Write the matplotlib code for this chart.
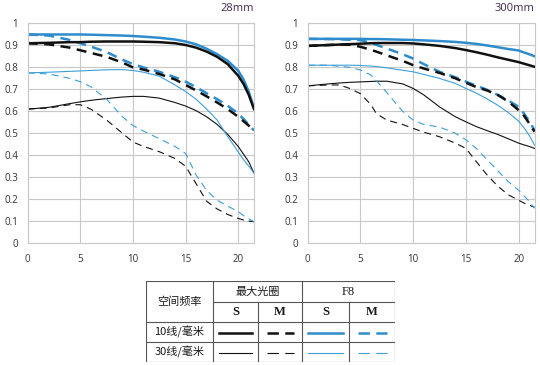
import matplotlib
matplotlib.use("Agg")
import matplotlib.pyplot as plt

plt.rcParams['font.family'] = ['Open Sans', 'DejaVu Sans']

# ---- data (MTF, x = image height in mm) ----
x_28 = [0, 2, 4, 5, 6, 7.5, 9, 10, 11, 12.5, 14, 15, 16, 17, 18, 19, 20, 20.5, 21, 21.5]
s10_max_28 = [0.91, 0.912, 0.915, 0.915, 0.917, 0.918, 0.918, 0.918, 0.917, 0.915,
              0.91, 0.902, 0.89, 0.872, 0.848, 0.815, 0.762, 0.725, 0.675, 0.61]
m10_max_28 = [0.91, 0.905, 0.89, 0.878, 0.866, 0.848, 0.822, 0.80, 0.79, 0.77,
              0.745, 0.72, 0.695, 0.668, 0.64, 0.61, 0.575, 0.555, 0.535, 0.51]
s10_f8_28 = [0.95, 0.95, 0.95, 0.95, 0.949, 0.947, 0.945, 0.943, 0.94, 0.935,
             0.927, 0.918, 0.905, 0.885, 0.86, 0.83, 0.785, 0.745, 0.69, 0.615]
m10_f8_28 = [0.95, 0.945, 0.925, 0.91, 0.895, 0.87, 0.835, 0.815, 0.8, 0.78,
             0.755, 0.735, 0.71, 0.682, 0.655, 0.625, 0.59, 0.565, 0.54, 0.512]
s30_max_28 = [0.61, 0.618, 0.635, 0.643, 0.65, 0.658, 0.665, 0.668, 0.668, 0.66,
              0.64, 0.624, 0.603, 0.575, 0.54, 0.495, 0.44, 0.405, 0.37, 0.318]
m30_max_28 = [0.61, 0.615, 0.63, 0.63, 0.61, 0.56, 0.5, 0.46, 0.44, 0.416,
              0.385, 0.35, 0.27, 0.19, 0.155, 0.13, 0.112, 0.105, 0.1, 0.097]
s30_f8_28 = [0.775, 0.778, 0.782, 0.784, 0.786, 0.789, 0.79, 0.786, 0.778, 0.76,
             0.72, 0.69, 0.655, 0.61, 0.56, 0.485, 0.415, 0.38, 0.35, 0.318]
m30_f8_28 = [0.775, 0.77, 0.75, 0.735, 0.712, 0.655, 0.575, 0.535, 0.51, 0.475,
             0.44, 0.408, 0.31, 0.24, 0.195, 0.168, 0.143, 0.125, 0.11, 0.097]

x_300 = [0, 2, 3, 4, 5, 6, 6.5, 7.5, 9, 10, 11, 12.5, 14, 15, 16, 17, 18, 19, 20, 20.5, 21, 21.5]
s10_max_300 = [0.898, 0.902, 0.904, 0.906, 0.908, 0.91, 0.911, 0.911, 0.911, 0.909, 0.905,
               0.898, 0.888, 0.879, 0.869, 0.858, 0.846, 0.835, 0.824, 0.817, 0.81, 0.803]
m10_max_300 = [0.898, 0.902, 0.904, 0.903, 0.894, 0.88, 0.872, 0.855, 0.83, 0.81, 0.795,
               0.775, 0.75, 0.73, 0.71, 0.695, 0.675, 0.645, 0.605, 0.58, 0.545, 0.507]
s10_f8_300 = [0.93, 0.93, 0.93, 0.93, 0.93, 0.929, 0.929, 0.928, 0.926, 0.925, 0.923,
              0.92, 0.916, 0.912, 0.907, 0.9, 0.892, 0.884, 0.877, 0.868, 0.86, 0.851]
m10_f8_300 = [0.93, 0.929, 0.928, 0.926, 0.924, 0.912, 0.903, 0.886, 0.86, 0.84, 0.815,
              0.78, 0.755, 0.735, 0.717, 0.698, 0.675, 0.65, 0.62, 0.59, 0.555, 0.514]
s30_max_300 = [0.716, 0.725, 0.729, 0.732, 0.734, 0.736, 0.737, 0.737, 0.725, 0.704, 0.675,
               0.62, 0.575, 0.552, 0.53, 0.512, 0.495, 0.475, 0.455, 0.447, 0.44, 0.431]
m30_max_300 = [0.716, 0.72, 0.72, 0.704, 0.68, 0.63, 0.59, 0.56, 0.54, 0.522, 0.505,
               0.484, 0.455, 0.431, 0.37, 0.31, 0.26, 0.22, 0.195, 0.182, 0.172, 0.163]
s30_f8_300 = [0.81, 0.81, 0.81, 0.81, 0.809, 0.806, 0.804, 0.798, 0.787, 0.78, 0.768,
              0.75, 0.727, 0.704, 0.682, 0.657, 0.628, 0.595, 0.555, 0.525, 0.49, 0.446]
m30_f8_300 = [0.81, 0.81, 0.805, 0.8, 0.788, 0.765, 0.74, 0.685, 0.6, 0.56, 0.54,
              0.528, 0.5, 0.47, 0.43, 0.38, 0.33, 0.28, 0.24, 0.215, 0.19, 0.158]

panel_titles = ["28mm", "300mm"]
x_ticks = [0, 5, 10, 15, 20]
y_ticks = [0, 0.1, 0.2, 0.3, 0.4, 0.5, 0.6, 0.7, 0.8, 0.9, 1]
y_tick_labels = ["0", "0.1", "0.2", "0.3", "0.4", "0.5", "0.6", "0.7", "0.8", "0.9", "1"]

table_header = ["空间频率", "最大光圈", "F8", "S", "M"]
row_labels = ["10线/毫米", "30线/毫米"]

BLACK = "#111111"
BLUE = "#2e8ccd"
BLUE_THIN = "#3c9fd8"
GRID = "#c8c8c8"

thick, thin = 1.8, 0.8
dash_thick = (4, 2.6)
dash_thin = (6.3, 4.5)

fig = plt.figure(figsize=(5.4, 3.65), dpi=100)

W, H = 540.0, 365.0
ax_l = fig.add_axes([27.7 / W, (H - 243) / H, (254 - 27.7) / W, (243 - 23.5) / H])
ax_r = fig.add_axes([307.7 / W, (H - 243) / H, (534.5 - 307.7) / W, (243 - 23.5) / H])

panels = [
    (ax_l, x_28, s10_max_28, m10_max_28, s10_f8_28, m10_f8_28,
     s30_max_28, m30_max_28, s30_f8_28, m30_f8_28),
    (ax_r, x_300, s10_max_300, m10_max_300, s10_f8_300, m10_f8_300,
     s30_max_300, m30_max_300, s30_f8_300, m30_f8_300),
]

for i, (ax, x, s10m, m10m, s10f, m10f, s30m, m30m, s30f, m30f) in enumerate(panels):
    # thin (30 lp/mm) first, thick on top
    ax.plot(x, s30m, color=BLACK, lw=thin)
    ax.plot(x, m30m, color=BLACK, lw=thin, dashes=dash_thin)
    ax.plot(x, s30f, color=BLUE_THIN, lw=thin)
    ax.plot(x, m30f, color=BLUE_THIN, lw=thin, dashes=dash_thin)
    ax.plot(x, s10f, color=BLUE, lw=thick)
    ax.plot(x, m10f, color=BLUE, lw=thick, dashes=dash_thick)
    ax.plot(x, s10m, color=BLACK, lw=thick)
    ax.plot(x, m10m, color=BLACK, lw=thick, dashes=dash_thick)

    ax.set_xlim(0, 21.5)
    ax.set_ylim(0, 1)
    ax.set_xticks(x_ticks)
    ax.set_yticks(y_ticks)
    ax.set_yticklabels(y_tick_labels)
    ax.tick_params(length=0, labelsize=7, colors="#333333")
    ax.tick_params(axis="x", pad=8)
    ax.tick_params(axis="y", pad=7)
    ax.grid(True, color=GRID, lw=0.8)
    ax.set_axisbelow(True)
    for sp in ax.spines.values():
        sp.set_color(GRID)
        sp.set_linewidth(0.8)
    ax.text(1.0, 1.045, panel_titles[i], transform=ax.transAxes, ha="right",
            va="bottom", fontsize=8, color="#3d2a4f")

# ---- legend table, drawn in pixel coordinates ----
tab = fig.add_axes([146 / W, (H - 362) / H, (395 - 146) / W, (362 - 281) / H])
tab.set_xlim(146, 395)
tab.set_ylim(362, 281)
tab.axis("off")

cols = [146, 213, 258, 302, 349, 395]
rows = [281, 302, 322, 342, 362]
lc = "#555555"
lw_t = 0.8
# outer border
tab.plot([cols[0], cols[-1], cols[-1], cols[0], cols[0]],
         [rows[0], rows[0], rows[-1], rows[-1], rows[0]], color=lc, lw=lw_t)
tab.plot([cols[1], cols[-1]], [rows[1], rows[1]], color=lc, lw=lw_t)
tab.plot([cols[0], cols[-1]], [rows[2], rows[2]], color=lc, lw=lw_t)
tab.plot([cols[0], cols[-1]], [rows[3], rows[3]], color=lc, lw=lw_t)
tab.plot([cols[1], cols[1]], [rows[0], rows[-1]], color=lc, lw=lw_t)
tab.plot([cols[3], cols[3]], [rows[0], rows[-1]], color=lc, lw=lw_t)
tab.plot([cols[2], cols[2]], [rows[1], rows[-1]], color=lc, lw=lw_t)
tab.plot([cols[4], cols[4]], [rows[1], rows[-1]], color=lc, lw=lw_t)

cjk = ['Noto Sans CJK SC', 'DejaVu Sans']
serif = ['Liberation Serif', 'Noto Sans CJK SC']
tcol = "#1a1a1a"
tab.text((cols[0] + cols[1]) / 2, rows[1], table_header[0], ha="center", va="center",
         fontsize=8, family=cjk, fontweight="medium", color=tcol)
tab.text((cols[1] + cols[3]) / 2, (rows[0] + rows[1]) / 2, table_header[1], ha="center",
         va="center", fontsize=8, family=cjk, fontweight="medium", color=tcol)
tab.text((cols[3] + cols[5]) / 2, (rows[0] + rows[1]) / 2, table_header[2], ha="center",
         va="center", fontsize=9, family=serif, color=tcol)
for k in range(4):
    tab.text((cols[k + 1] + cols[k + 2]) / 2, (rows[1] + rows[2]) / 2,
             table_header[3 + k % 2], ha="center", va="center", fontsize=9,
             family=serif, fontweight="bold", color=tcol)
for r, lab in enumerate(row_labels):
    tab.text((cols[0] + cols[1]) / 2, (rows[2 + r] + rows[3 + r]) / 2, lab, ha="center",
             va="center", fontsize=8, family=cjk, fontweight="medium", color=tcol)

# legend samples: (colour, dashed?) per column
samples = [(BLACK, False), (BLACK, True), (BLUE, False), (BLUE, True)]
for r, lw_s in enumerate([thick, thin]):
    y = (rows[2 + r] + rows[3 + r]) / 2 + 1
    for k, (c, dashed) in enumerate(samples):
        if r == 1 and c == BLUE:
            c = BLUE_THIN
        if dashed:
            x0, x1 = cols[k + 1] + 9, cols[k + 2] - 8
            tab.plot([x0, x1], [y, y], color=c, lw=lw_s,
                     dashes=(8.2 / lw_s, 4.6 / lw_s))
        else:
            x0, x1 = cols[k + 1] + 6, cols[k + 2] - 6
            tab.plot([x0, x1], [y, y], color=c, lw=lw_s)

fig.savefig("out.png", dpi=100)
